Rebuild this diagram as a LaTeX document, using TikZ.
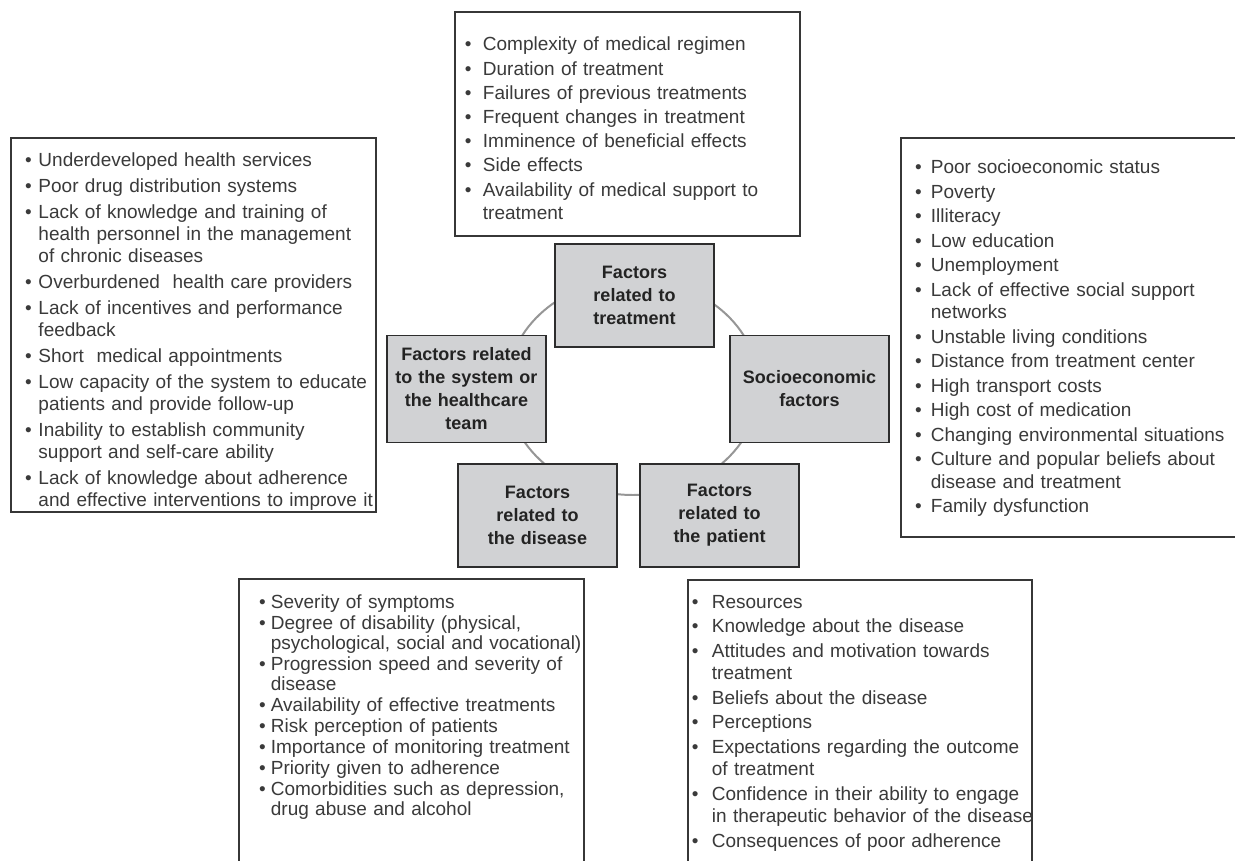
\documentclass[tikz,border=0pt]{standalone}
\usepackage{fontspec}
\setmainfont{Liberation Sans}

\definecolor{boxgray}{RGB}{209,210,212}
\definecolor{boxline}{RGB}{45,45,45}
\definecolor{listline}{RGB}{55,55,55}
\definecolor{itemgray}{RGB}{58,58,58}
\definecolor{boldgray}{RGB}{35,35,35}
\definecolor{ringgray}{RGB}{150,150,150}

% bullet items with a hanging indent of \bgap
\newlength\bgap
\newcommand{\firstitem}[1]{\hangindent=\bgap\hangafter=1\makebox[\bgap][l]{\textbullet}#1}
\newcommand{\bitem}[1]{\par\hangindent=\bgap\hangafter=1\noindent\makebox[\bgap][l]{\textbullet}#1}
\newcommand{\listsetup}[2]{\setlength{\parskip}{#1}\setlength{\bgap}{#2}}

\tikzset{
  factorbox/.style={draw=boxline, fill=boxgray, line width=0.053cm, minimum width=159pt,
    minimum height=103pt, text width=150pt, align=center, inner sep=0pt, text=boldgray,
    font=\fontsize{18}{23}\selectfont\bfseries},
  listbox/.style={draw=listline, fill=white, line width=0.046cm},
  listtext/.style={anchor=base west, inner sep=0pt, text width=420pt, align=left, text=itemgray},
  ring/.style={draw=ringgray, line width=0.07cm},
}

\begin{document}
\begin{tikzpicture}[x=1pt,y=-1pt]
                \useasboundingbox (0,0) rectangle (1235,861);

                % Drawing ring behind the five factors
                \coordinate (hub) at (633,387);%
                \draw [ring] (hub) ellipse [x radius=126, y radius=108];%

                % Drawing list box above (treatment)
                \draw [listbox] (455,12) rectangle (800,236);%
                \draw (464.7,51) node [listtext, font=\fontsize{19}{23}\selectfont] (treatlist) {\listsetup{1.2pt}{18pt}%
                  \firstitem{Complexity of medical regimen}
                  \bitem{Duration of treatment}
                  \bitem{Failures of previous treatments}
                  \bitem{Frequent changes in treatment}
                  \bitem{Imminence of beneficial effects}
                  \bitem{Side effects}
                  \bitem{Availability of medical support to\newline treatment}\par};%

                % Drawing list box left (system)
                \draw [listbox] (11,138) rectangle (376,512);%
                \draw (25,167) node [listtext, font=\fontsize{19}{22}\selectfont] (systemlist) {\listsetup{4pt}{13.3pt}%
                  \firstitem{Underdeveloped health services}
                  \bitem{Poor drug distribution systems}
                  \bitem{Lack of knowledge and training of\newline health personnel in the management\newline of chronic diseases}
                  \bitem{Overburdened\ \ health care providers}
                  \bitem{Lack of incentives and performance\newline feedback}
                  \bitem{Short\ \ medical appointments}
                  \bitem{Low capacity of the system to educate\newline patients and provide follow-up}
                  \bitem{Inability to establish community\newline support and self-care ability}
                  \bitem{Lack of knowledge about adherence\newline and effective interventions to improve it}\par};%

                % Drawing list box right (socioeconomic)
                \draw [listbox] (901,138) rectangle (1245,537);%
                \draw (915,174) node [listtext, font=\fontsize{19}{22.5}\selectfont] (sociolist) {\listsetup{2pt}{15.7pt}%
                  \firstitem{Poor socioeconomic status}
                  \bitem{Poverty}
                  \bitem{Illiteracy}
                  \bitem{Low education}
                  \bitem{Unemployment}
                  \bitem{Lack of effective social support\newline networks}
                  \bitem{Unstable living conditions}
                  \bitem{Distance from treatment center}
                  \bitem{High transport costs}
                  \bitem{High cost of medication}
                  \bitem{Changing environmental situations}
                  \bitem{Culture and popular beliefs about\newline disease and treatment}
                  \bitem{Family dysfunction}\par};%

                % Drawing list box below left (disease), open at the bottom
                \draw [listbox] (239,875) -- (239,579) -- (584,579) -- (584,875);%
                \draw (259,608) node [listtext, font=\fontsize{19}{20}\selectfont] (diseaselist) {\listsetup{1pt}{11.7pt}%
                  \firstitem{Severity of symptoms}
                  \bitem{Degree of disability (physical,\newline psychological, social and vocational)}
                  \bitem{Progression speed and severity of\newline disease}
                  \bitem{Availability of effective treatments}
                  \bitem{Risk perception of patients}
                  \bitem{Importance of monitoring treatment}
                  \bitem{Priority given to adherence}
                  \bitem{Comorbidities such as depression,\newline drug abuse and alcohol}\par};%

                % Drawing list box below right (patient), open at the bottom
                \draw [listbox] (688,875) -- (688,580) -- (1032,580) -- (1032,875);%
                \draw (691.7,608) node [listtext, font=\fontsize{19}{22.5}\selectfont] (patientlist) {\listsetup{2pt}{20pt}%
                  \firstitem{Resources}
                  \bitem{Knowledge about the disease}
                  \bitem{Attitudes and motivation towards\newline treatment}
                  \bitem{Beliefs about the disease}
                  \bitem{Perceptions}
                  \bitem{Expectations regarding the outcome\newline of treatment}
                  \bitem{Confidence in their ability to engage\newline in therapeutic behavior of the disease}
                  \bitem{Consequences of poor adherence}\par};%

                % Drawing the five factor boxes on the ring
                \draw (634.5,295.5) node [factorbox] (treat) {Factors\\related to\\treatment};%
                \draw (466.5,389) node [factorbox, minimum height=107pt] (system) {Factors related\\to the system or\\the healthcare\\team};%
                \draw (809.5,389) node [factorbox, minimum height=107pt] (socio) {Socioeconomic\\factors};%
                \draw (537.5,515.5) node [factorbox] (disease) {Factors\\related to\\the disease};%
                \draw (719.5,515.5) node [factorbox] (patient) {Factors\\related to\\the patient};%
\end{tikzpicture}
\end{document}
